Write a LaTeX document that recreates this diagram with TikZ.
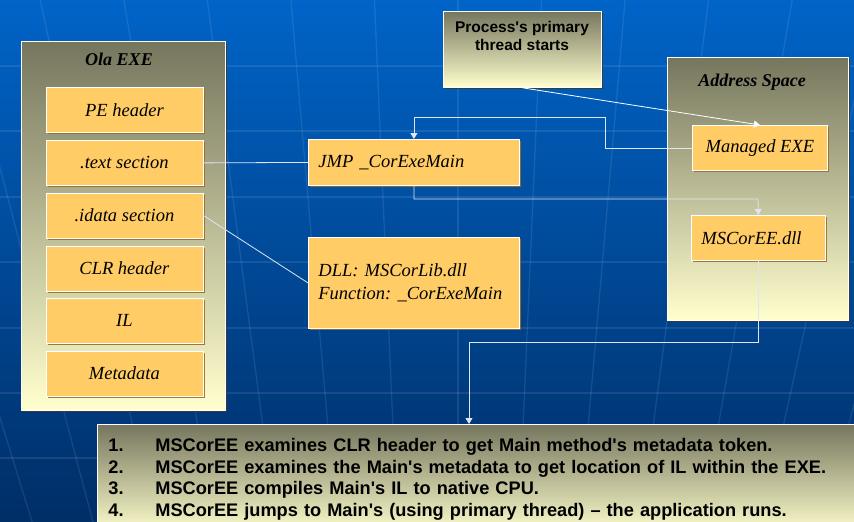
\documentclass[tikz,border=0pt]{standalone}
\usepackage{fontspec}
\setmainfont{Liberation Serif}
\newfontfamily\arialf{Liberation Sans}
\usetikzlibrary{arrows.meta,shadows,calc}
\definecolor{bgtop}{RGB}{0,100,200}
\definecolor{bgbot}{RGB}{0,46,102}
\definecolor{olivec}{RGB}{118,118,94}
\definecolor{creamc}{RGB}{255,255,206}
\definecolor{orangec}{RGB}{255,204,102}
\definecolor{linec}{RGB}{222,230,244}
\definecolor{shadowc}{RGB}{60,60,50}
\definecolor{oshadowc}{RGB}{150,110,40}
\frenchspacing
\begin{document}
\begin{tikzpicture}[x=1pt,y=-1pt,
  conn/.style={draw=linec, line width=0.8pt},
  arr/.style={conn, -{Triangle[width=7pt,length=6pt]}},
  cont/.style={rectangle, anchor=north west, draw=white, line width=0.8pt,
    top color=olivec, bottom color=creamc, inner sep=0pt,
    drop shadow={shadow xshift=2pt, shadow yshift=-2pt, fill=shadowc, opacity=0.9}},
  obox/.style={rectangle, anchor=north west, fill=orangec, draw=white, line width=0.8pt,
    inner sep=0pt, text=black, font=\fontsize{18.5}{23}\selectfont\itshape,
    drop shadow={shadow xshift=2pt, shadow yshift=-2pt, fill=oshadowc, opacity=0.9}},
  lbox/.style={obox, align=left, inner xsep=10pt},
  ctitle/.style={font=\fontsize{18}{20}\selectfont\bfseries\itshape, text=black},
  stitle/.style={font=\arialf\fontsize{15.5}{18}\selectfont\bfseries, text=black, align=center},
  gridl/.style={draw=white, opacity=0.09, line width=1.3pt}
]
\path[use as bounding box, clip] (0,0) rectangle (854,522);
% background
\shade[top color=bgtop, bottom color=bgbot] (0,0) rectangle (854,522);
\foreach \yy in {66,131,197,262,328,393,458}
  \draw[gridl] (0,\yy) -- (854,\yy);
\foreach \k in {-7,...,7}
  \draw[gridl] ({458+\k*67*1.247},0) .. controls ({458+\k*67*1.08},260) .. ({458+\k*67*0.908},522);

% Ola EXE container
\node[cont, minimum width=204pt, minimum height=369pt] (ola) at (21,41) {};
\node[ctitle] (olaT) at (119,59) {Ola EXE};
\node[obox, minimum width=157pt, minimum height=45pt] (pe)    at (45.5,87)  {PE header};
\node[obox, minimum width=157pt, minimum height=45pt] (text)  at (45.5,140) {.text section};
\node[obox, minimum width=157pt, minimum height=45pt] (idata) at (45.5,192.5) {.idata section};
\node[obox, minimum width=157pt, minimum height=45pt] (clr)   at (45.5,245.5) {CLR header};
\node[obox, minimum width=157pt, minimum height=45pt] (il)    at (45.5,298) {IL};
\node[obox, minimum width=157pt, minimum height=45pt] (meta)  at (45.5,350.5) {Metadata};

% middle boxes
\node[lbox, text width=191pt, minimum height=46pt] (jmp) at (308,139) {JMP \_CorExeMain};
\node[lbox, text width=191pt, minimum height=91pt] (dll) at (308,237) {DLL: MSCorLib.dll\\Function: \_CorExeMain};

% process box
\node[cont, minimum width=158pt, minimum height=76pt] (proc) at (443,11) {};
\node[stitle] (procT) at (522,36) {Process's primary\\thread starts};

% Address space
\node[cont, minimum width=181pt, minimum height=263pt] (addr) at (667,57) {};
\node[ctitle] (addrT) at (752,82) {Address Space};
\node[obox, minimum width=135pt, minimum height=45pt] (mexe) at (692,125) {Managed EXE};
\node[lbox, text width=114pt, minimum height=45pt] (msc) at (691,215) {MSCorEE.dll};

% steps box
\node[cont, minimum width=745pt, minimum height=110pt, align=left, text width=735pt,
      inner xsep=11pt, font=\arialf\fontsize{18.2}{21.7}\selectfont\bfseries, text=black] (steps) at (97,424)
 {\makebox[47pt][l]{1.}MSCorEE examines CLR header to get Main method's metadata token.\\
  \makebox[47pt][l]{2.}MSCorEE examines the Main's metadata to get location of IL within the EXE.\\
  \makebox[47pt][l]{3.}MSCorEE compiles Main's IL to native CPU.\\
  \makebox[47pt][l]{4.}MSCorEE jumps to Main's (using primary thread) – the application runs.};

% connectors
\coordinate (c1) at (605,117);
\coordinate (c3) at (758,199);
\coordinate (c4) at (469,342);
\draw[conn] (text.east) -- (jmp.west);
\draw[conn] (idata.east) -- (dll.west);
\draw[arr, draw=white] (proc.south) -- (mexe.north);
\draw[arr] (mexe.west) -| (c1) -| (jmp.north);
\draw[arr] (jmp.south) |- (c3) -- (msc.north);
\draw[arr] (msc.south) |- (c4) -- (c4 |- steps.north);
\end{tikzpicture}
\end{document}
